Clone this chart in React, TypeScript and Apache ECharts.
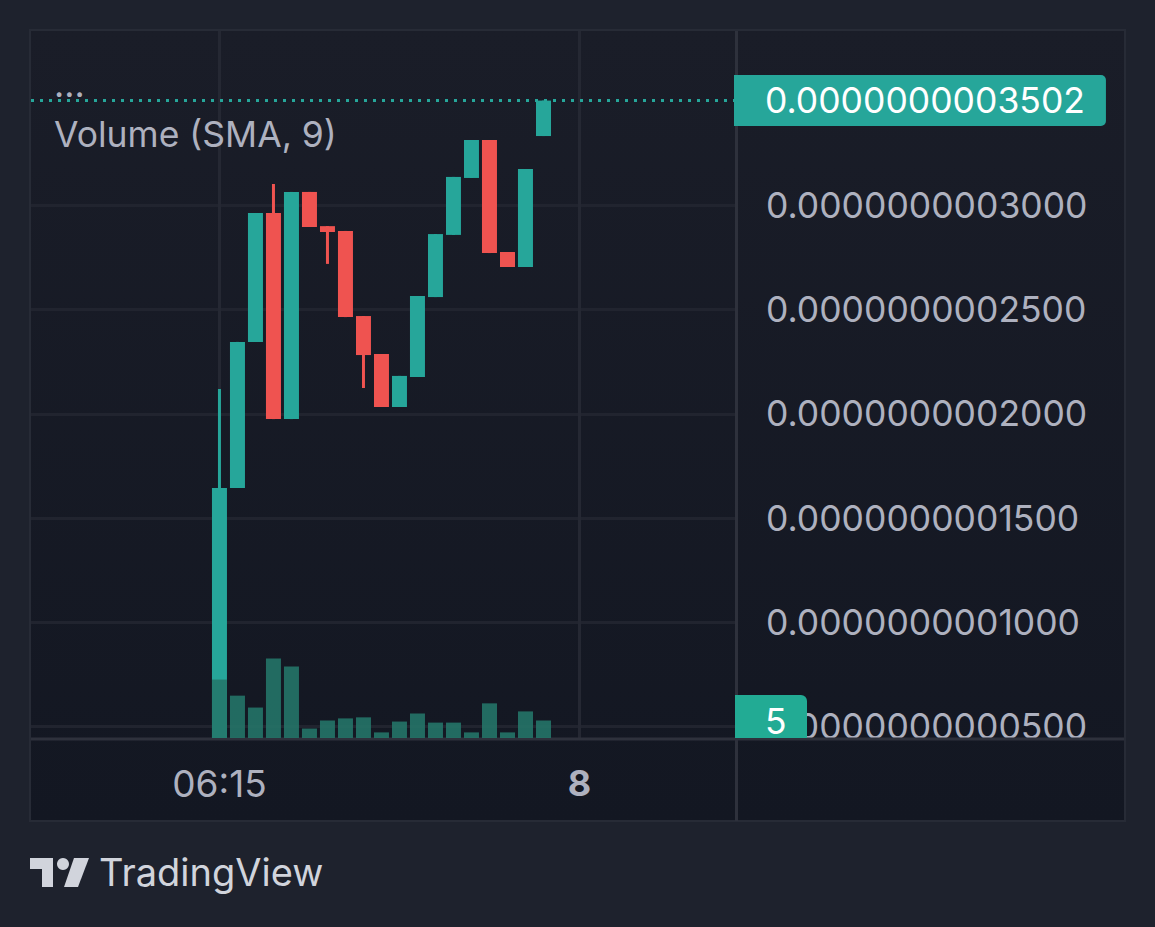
import { useEffect, useRef } from "react";
import * as echarts from "echarts";

// prices are kept in units of 1e-13, see formatPrice
const opens = [440, 1645, 2345, 2963, 1975, 3064, 2900, 2877, 2469, 2287, 2033, 2177, 2560, 2858, 3131, 3313, 2776, 2704, 3332];
const closes = [1645, 2345, 2963, 1975, 3064, 2896, 2872, 2464, 2282, 2033, 2182, 2565, 2862, 3136, 3313, 2771, 2704, 3174, 3502];
const lows = [440, 1645, 2345, 1975, 1975, 2896, 2719, 2464, 2124, 2033, 2033, 2177, 2560, 2858, 3131, 2771, 2704, 2704, 3332];
const highs = [2119, 2345, 2963, 3102, 3064, 3064, 2900, 2877, 2469, 2287, 2182, 2565, 2862, 3136, 3313, 3313, 2776, 3174, 3502];
const volumes = [16.7, 12.1, 8.7, 22.7, 20.4, 2.7, 5, 5.6, 5.9, 1.6, 4.7, 7, 4.4, 4.4, 1.6, 9.9, 1.6, 7.6, 5];

const priceTicks = [500, 1000, 1500, 2000, 2500, 3000];
const lastPrice = 3502;
const lastVolume = 5;
const timeTicks = [0, 20];
const timeLabels = ["06:15", "8"];

const FONT = "Inter";
const TEAL = "#26a69a";
const RED = "#ef5350";
const LABEL = "#aeb1bf";
const PANEL_LINE = "#2e313c";

const formatPrice = (v: number) => "0." + String(v).padStart(13, "0");

const renderCandle = (_params: any, api: any) => {
  const i = api.value(0);
  const open = api.value(1);
  const close = api.value(2);
  const [cx, yOpen] = api.coord([i, open]);
  const yClose = api.coord([i, close])[1];
  const yLow = api.coord([i, api.value(3)])[1];
  const yHigh = api.coord([i, api.value(4)])[1];
  const fill = close >= open ? TEAL : RED;
  return {
    type: "group",
    children: [
      {
        type: "rect",
        shape: { x: cx - 1.5, y: yHigh, width: 3, height: yLow - yHigh },
        style: { fill },
      },
      {
        type: "rect",
        shape: {
          x: cx - 7.5,
          y: Math.min(yOpen, yClose),
          width: 15,
          height: Math.abs(yOpen - yClose),
        },
        style: { fill },
      },
    ],
  };
};

const option: any = {
  animation: false,
  backgroundColor: "#1e222d",
  textStyle: { fontFamily: FONT },
  grid: { left: 31, right: 420, top: 31, bottom: 189 },
  xAxis: {
    type: "value",
    min: -10.47,
    max: 28.64,
    axisLine: { show: false },
    axisTick: { show: false, customValues: timeTicks },
    axisLabel: {
      customValues: timeTicks,
      color: LABEL,
      fontSize: 37,
      fontFamily: FONT,
      margin: 27,
      formatter: (v: number) => {
        const label = timeLabels[timeTicks.indexOf(v)];
        return v === 20 ? `{bold|${label}}` : label;
      },
      rich: { bold: { fontWeight: "bold", fontSize: 36, color: LABEL, fontFamily: FONT } },
    },
    splitLine: { show: true, lineStyle: { color: "#252833", width: 3 } },
  },
  yAxis: [
    {
      type: "value",
      position: "right",
      min: 446,
      max: 3835.6,
      axisLine: { show: false },
      axisTick: { show: false, customValues: priceTicks },
      axisLabel: {
        customValues: priceTicks,
        color: LABEL,
        fontSize: 35.5,
        fontFamily: FONT,
        margin: 31,
        formatter: formatPrice,
      },
      splitLine: { show: true, lineStyle: { color: "#21242f", width: 3 } },
    },
    { type: "value", show: false, min: 0, max: 202, splitLine: { show: false } },
  ],
  series: [
    {
      type: "custom",
      name: "Price",
      clip: true,
      z: 2,
      renderItem: renderCandle,
      encode: { x: 0, y: [1, 2, 3, 4] },
      data: opens.map((o, i) => [i, o, closes[i], lows[i], highs[i]]),
      markLine: {
        silent: true,
        symbol: ["none", "none"],
        lineStyle: { color: TEAL, width: 3, type: [3, 6], opacity: 1 },
        label: {
          show: true,
          position: "end",
          distance: -1,
          formatter: () => formatPrice(lastPrice),
          color: "#ffffff",
          fontSize: 35.5,
          fontFamily: FONT,
          lineHeight: 33,
          backgroundColor: TEAL,
          padding: [9, 21, 9, 31],
          borderRadius: [0, 5, 5, 0],
        },
        data: [{ yAxis: lastPrice }],
      },
    },
    {
      type: "bar",
      name: "Volume",
      yAxisIndex: 1,
      z: 3,
      barWidth: 15,
      itemStyle: { color: "rgba(36,118,106,0.88)" },
      data: volumes.map((v, i) => [i, v]),
    },
  ],
  graphic: [
    {
      type: "rect",
      z: -10,
      shape: { x: 30, y: 30, width: 1095, height: 791 },
      style: {
        fill: {
          type: "linear",
          x: 0,
          y: 0,
          x2: 0,
          y2: 1,
          colorStops: [
            { offset: 0, color: "#1a1d28" },
            { offset: 1, color: "#131722" },
          ],
        },
        stroke: "#272b36",
        lineWidth: 2,
      },
    },
    // panel separators stay under the series so the price tag covers them
    { type: "line", z: 1, shape: { x1: 736.5, y1: 31, x2: 736.5, y2: 821 }, style: { stroke: PANEL_LINE, lineWidth: 3 } },
    { type: "line", z: 1, shape: { x1: 31, y1: 739, x2: 1124, y2: 739 }, style: { stroke: PANEL_LINE, lineWidth: 3 } },
    // volume tag, cut off by the time panel
    {
      type: "rect",
      z: 101,
      shape: { x: 735, y: 695, width: 72, height: 43, r: [0, 6, 0, 0] },
      style: { fill: "#22ab94" },
    },
    {
      type: "text",
      z: 102,
      x: 765,
      y: 721,
      style: {
        text: String(lastVolume),
        fill: "#ffffff",
        fontSize: 35.5,
        fontFamily: FONT,
        verticalAlign: "middle",
      },
    },
    // legend
    {
      type: "text",
      z: 50,
      x: 54,
      y: 134,
      style: {
        text: "Volume (SMA, 9)",
        fill: LABEL,
        fontSize: 35.5,
        fontFamily: FONT,
        verticalAlign: "middle",
      },
    },
    {
      type: "text",
      z: 50,
      x: 54,
      y: 84,
      style: {
        text: "...",
        fill: LABEL,
        fontSize: 35.5,
        fontFamily: FONT,
        verticalAlign: "middle",
      },
    },
    // logo
    {
      type: "polygon",
      shape: { points: [[30, 858], [53, 858], [53, 887], [42, 887], [42, 869], [30, 869]] },
      style: { fill: "#d1d4dc" },
    },
    { type: "circle", shape: { cx: 63, cy: 864, r: 6 }, style: { fill: "#d1d4dc" } },
    {
      type: "polygon",
      shape: { points: [[74, 858], [89, 858], [78, 887], [64, 887]] },
      style: { fill: "#d1d4dc" },
    },
    {
      type: "text",
      x: 99,
      y: 872,
      style: {
        text: "TradingView",
        fill: "#d1d4dc",
        fontSize: 38,
        fontFamily: FONT,
        verticalAlign: "middle",
      },
    },
  ],
};

const App = () => {
  const chartRef = useRef<HTMLDivElement>(null);

  useEffect(() => {
    if (chartRef.current === null) return;
    const chart = echarts.init(chartRef.current, null, { renderer: "svg" });
    chart.setOption(option);
    return () => {
      chart.dispose();
    };
  }, []);

  return (
    <div
      ref={chartRef}
      style={{ position: "absolute", left: 0, top: 0, width: 1155, height: 927 }}
    ></div>
  );
};

export default App;
